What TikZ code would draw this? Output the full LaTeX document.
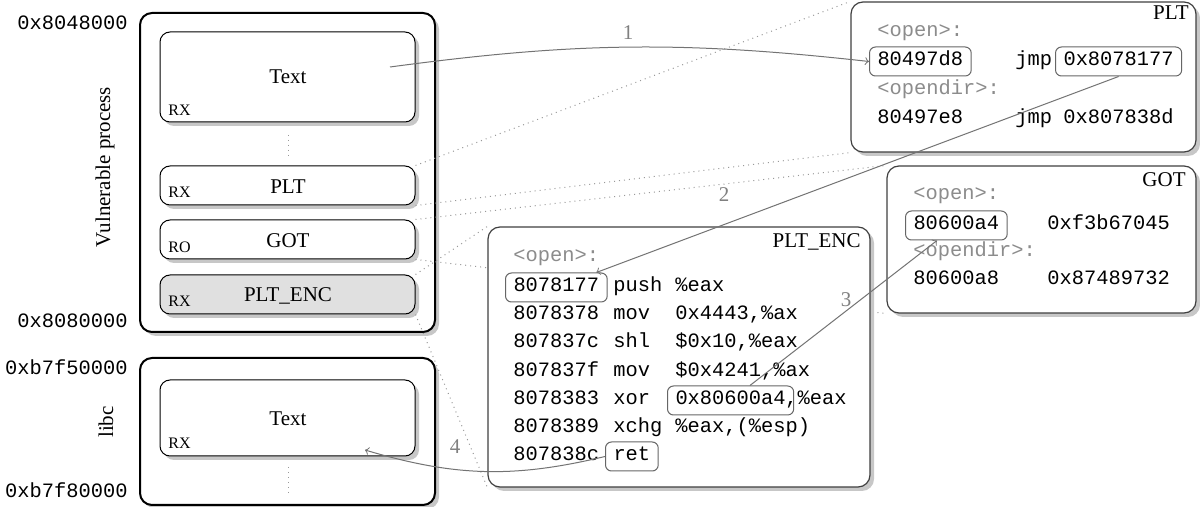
\documentclass[tikz,border=0pt]{standalone}
\usepackage{fontspec}
\setmainfont{Liberation Serif}
\setmonofont{Liberation Mono}
\usetikzlibrary{shadows,fit}
\pgfdeclarelayer{fg}
\pgfsetlayers{main,fg}
\begin{document}
\begin{tikzpicture}[x=0.5pt,y=-0.5pt,
  shad/.style={drop shadow={shadow xshift=2pt,shadow yshift=-2pt,fill=black!22,opacity=1}},
  outerbox/.style={draw=black,line width=1pt,rounded corners=6pt,fill=white,shad,inner sep=0pt},
  segbox/.style={draw=black,line width=0.5pt,rounded corners=5pt,fill=white,shad,inner sep=0pt},
  seglab/.style={font=\fontsize{10.5}{12}\selectfont,inner sep=0pt},
  bigbox/.style={draw=black!75,line width=0.6pt,rounded corners=6pt,fill=white,shad,inner sep=0pt},
  perm/.style={font=\fontsize{8}{9}\selectfont,anchor=west,inner sep=0pt},
  side/.style={font=\fontsize{10.5}{12}\selectfont,rotate=90,inner sep=0pt},
  title/.style={font=\fontsize{10.5}{12}\selectfont,anchor=base east,inner sep=0pt},
  mono/.style={font=\ttfamily\fontsize{10.2}{12}\selectfont,anchor=base west,inner xsep=4pt,inner ysep=3pt,text height=6.5pt,text depth=2pt},
  gmono/.style={mono,text=black!45},
  hl/.style={mono,draw=black!60,line width=0.5pt,rounded corners=3pt},
  addr/.style={mono,anchor=base east},
  vdots/.style={draw=black!40,dotted,line width=0.5pt},
  dots/.style={draw=black!40,dotted,line width=0.5pt},
  conn/.style={draw=black!55,line width=0.5pt},
  num/.style={font=\fontsize{10.5}{12}\selectfont,text=black!50,inner sep=0pt}
]
\useasboundingbox (0,0) rectangle (1200,507);

% address labels
\node[addr] (l1) at (136,30) {0x8048000};
\node[addr] (l2) at (136,328) {0x8080000};
\node[addr] (l3) at (136,375) {0xb7f50000};
\node[addr] (l4) at (136,498) {0xb7f80000};

% vulnerable process
\node[outerbox,fit={(140,13) (435,332)}] (vproc) {};
\node[side] (vlab) at (105,167) {Vulnerable process};
\node[segbox,fit={(160,32) (415,122)}] (vtext) {};
\node[segbox,fit={(160,166) (415,205)}] (vplt) {};
\node[segbox,fit={(160,220) (415,259)}] (vgot) {};
\node[segbox,fill=black!12,fit={(160,275) (415,314)}] (venc) {};
\node[seglab] (vtextl) at (288,77) {Text};
\node[seglab] (vpltl) at (288,187) {PLT};
\node[seglab] (vgotl) at (288,241) {GOT};
\node[seglab] (vencl) at (288,296) {PLT\_ENC};
\node[perm] (r1) at (168,110) {RX};
\node[perm] (r2) at (168,192) {RX};
\node[perm] (r3) at (168,247) {RO};
\node[perm] (r4) at (168,301) {RX};
\coordinate (d1a) at (288,135);
\coordinate (d1b) at (288,157);
\draw[vdots] (d1a) -- (d1b);

% libc
\node[outerbox,fit={(140,358) (435,505)}] (libc) {};
\node[side] (llab) at (106,422) {libc};
\node[segbox,fit={(160,380) (415,456)}] (ltext) {};
\node[seglab] (ltextl) at (288,419) {Text};
\node[perm] (r5) at (168,443) {RX};
\coordinate (d2a) at (288,467);
\coordinate (d2b) at (288,493);
\draw[vdots] (d2a) -- (d2b);

\begin{pgfonlayer}{fg}
% PLT big
\node[bigbox,fit={(851,2) (1196,152)}] (bplt) {};
\node[title] (tplt) at (1189,20) {PLT};
\node[gmono] (po) at (869,37) {<open>:};
\node[hl] (p1) at (869,66) {80497d8};
\node[mono] (pm1) at (1007,66) {jmp};
\node[hl] (pj) at (1055,66) {0x8078177};
\node[gmono] (pod) at (869,95) {<opendir>:};
\node[mono] (p2) at (869,124) {80497e8};
\node[mono] (pm2) at (1007,124) {jmp};
\node[mono] (pj2) at (1055,124) {0x807838d};

% GOT big
\node[bigbox,fit={(887,166) (1196,313)}] (bgot) {};
\node[title] (tgot) at (1186,187) {GOT};
\node[gmono] (go) at (905,200) {<open>:};
\node[hl] (g1) at (905,230) {80600a4};
\node[mono] (gv1) at (1039,230) {0xf3b67045};
\node[gmono] (god) at (905,257) {<opendir>:};
\node[mono] (g2) at (905,285) {80600a8};
\node[mono] (gv2) at (1039,285) {0x87489732};

% PLT_ENC big
\node[bigbox,fit={(488,227) (870,487)}] (benc) {};
\node[title] (tenc) at (861,248) {PLT\_ENC};
\node[gmono] (eo) at (505,262) {<open>:};
\node[hl] (e1) at (505,292) {8078177};
\node[mono] (em1) at (605,292) {push};
\node[mono] (eop1) at (667,292) {\%eax};
\node[mono] (e2) at (505,320) {8078378};
\node[mono] (em2) at (605,320) {mov};
\node[mono] (eop2) at (667,320) {0x4443,\%ax};
\node[mono] (e3) at (505,348) {807837c};
\node[mono] (em3) at (605,348) {shl};
\node[mono] (eop3) at (667,348) {\$0x10,\%eax};
\node[mono] (e4) at (505,377) {807837f};
\node[mono] (em4) at (605,377) {mov};
\node[mono] (eop4) at (667,377) {\$0x4241,\%ax};
\node[mono] (e5) at (505,405) {8078383};
\node[mono] (em5) at (605,405) {xor};
\node[hl] (ex) at (667,405) {0x80600a4};
\node[mono] (eop5) at (777,405) {,\%eax};
\node[mono] (e6) at (505,433) {8078389};
\node[mono] (em6) at (605,433) {xchg};
\node[mono] (eop6) at (667,433) {\%eax,(\%esp)};
\node[mono] (e7) at (505,461) {807838c};
\node[hl] (er) at (605,461) {ret};

% arrows
\coordinate (a1s) at (390,67);
\coordinate (a4e) at (365,450);
\draw[conn,->] (a1s) to[bend left=7] (p1.west);
\draw[conn,->] (pj.south) -- (e1);
\draw[conn,->] (ex) -- (g1);
\draw[conn,->] (er.west) to[bend left=15] (a4e);
\node[num] (n1) at (628,33) {1};
\node[num] (n2) at (724,195) {2};
\node[num] (n3) at (846,300) {3};
\node[num] (n4) at (455,447) {4};
\end{pgfonlayer}

% dotted projections
\draw[dots] (vplt.north east) -- (bplt.north west);
\draw[dots] (vplt.south east) -- (bplt.south west);
\draw[dots] (vgot.north east) -- (bgot.north west);
\draw[dots] (vgot.south east) -- (bgot.south west);
\draw[dots] (venc.north east) -- (benc.north west);
\draw[dots] (venc.south east) -- (benc.south west);
\end{tikzpicture}
\end{document}
